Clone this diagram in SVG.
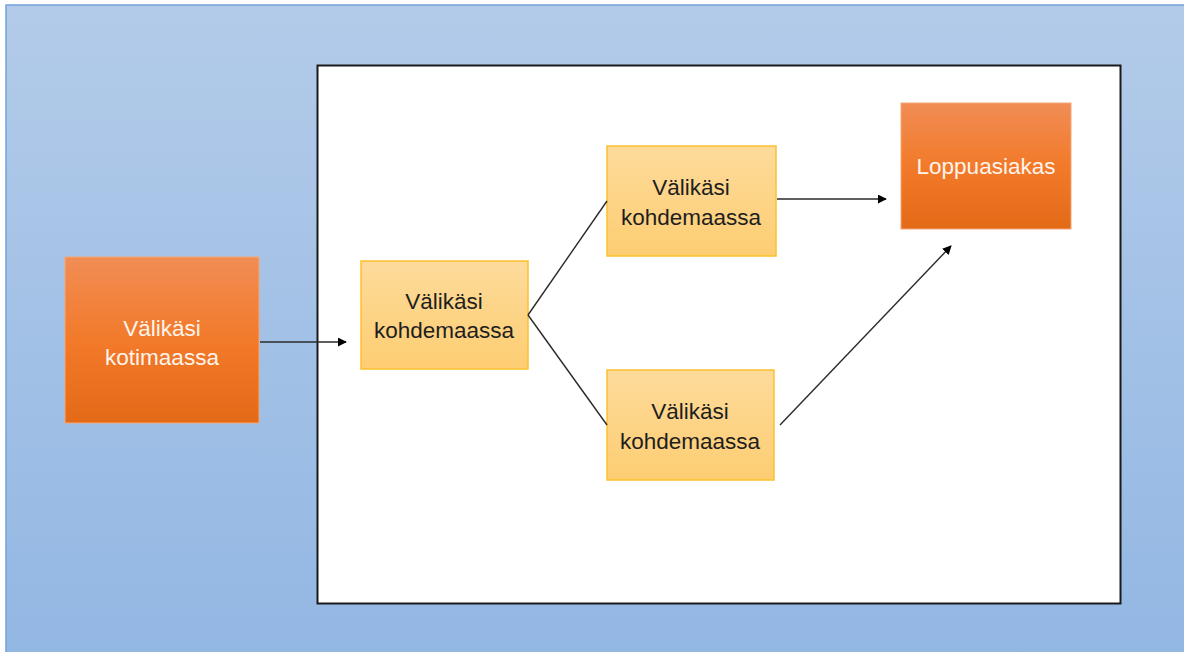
<svg xmlns="http://www.w3.org/2000/svg" width="1184" height="652" viewBox="0 0 1184 652">
<defs>
<linearGradient id="bg" x1="0" y1="0" x2="0" y2="1"><stop offset="0" stop-color="#b3cbe9"/><stop offset="1" stop-color="#92b7e3"/></linearGradient>
<linearGradient id="og" x1="0" y1="0" x2="0" y2="1"><stop offset="0" stop-color="#f18d55"/><stop offset="0.5" stop-color="#f27a2a"/><stop offset="1" stop-color="#e36a17"/></linearGradient>
<linearGradient id="yg" x1="0" y1="0" x2="0" y2="1"><stop offset="0" stop-color="#fddb9b"/><stop offset="1" stop-color="#fdcd72"/></linearGradient>
<marker id="ah" viewBox="0 0 10 10" refX="9" refY="5" markerWidth="9" markerHeight="9" markerUnits="userSpaceOnUse" orient="auto"><path d="M0,0 L10,5 L0,10 z" fill="#000"/></marker>
</defs>
<style>
.o{fill:url(#og);stroke:#f4a878;stroke-width:1}
.y{fill:url(#yg);stroke:#fcc12e;stroke-width:1.5}
.t{font-family:"Liberation Sans",Arial,sans-serif;font-size:22.5px;text-anchor:middle}
.w{fill:#fff4ec}
.k{fill:#1e1e1e}
.c{stroke:#2a2a2a;stroke-width:1.4;fill:none}
</style>
<rect x="6" y="5" width="1190" height="660" fill="url(#bg)" stroke="#72a2da" stroke-width="1.5"/>
<rect x="317.5" y="65.5" width="803" height="538" fill="#fff" stroke="#1a1a1a" stroke-width="2"/>
<g id="n1"><rect class="o" x="65" y="257" width="194" height="166"/><text class="t w" x="162" y="336">Välikäsi</text><text class="t w" x="162" y="365">kotimaassa</text></g>
<g id="n2"><rect class="y" x="361" y="261" width="167" height="108"/><text class="t k" x="444" y="309">Välikäsi</text><text class="t k" x="444" y="338">kohdemaassa</text></g>
<g id="n3"><rect class="y" x="607" y="146" width="169" height="110"/><text class="t k" x="691" y="195">Välikäsi</text><text class="t k" x="691" y="225">kohdemaassa</text></g>
<g id="n4"><rect class="y" x="607" y="370" width="167" height="110"/><text class="t k" x="690" y="419">Välikäsi</text><text class="t k" x="690" y="449">kohdemaassa</text></g>
<g id="n5"><rect class="o" x="901" y="103" width="170" height="126"/><text class="t w" x="986" y="174">Loppuasiakas</text></g>
<g id="connectors">
<line class="c" x1="260" y1="342" x2="346" y2="342" marker-end="url(#ah)"/>
<line class="c" x1="528" y1="315" x2="607" y2="201"/>
<line class="c" x1="528" y1="315" x2="607" y2="425"/>
<line class="c" x1="777" y1="199" x2="886" y2="199" marker-end="url(#ah)"/>
<line class="c" x1="780" y1="425" x2="951" y2="246" marker-end="url(#ah)"/>
</g>
</svg>
